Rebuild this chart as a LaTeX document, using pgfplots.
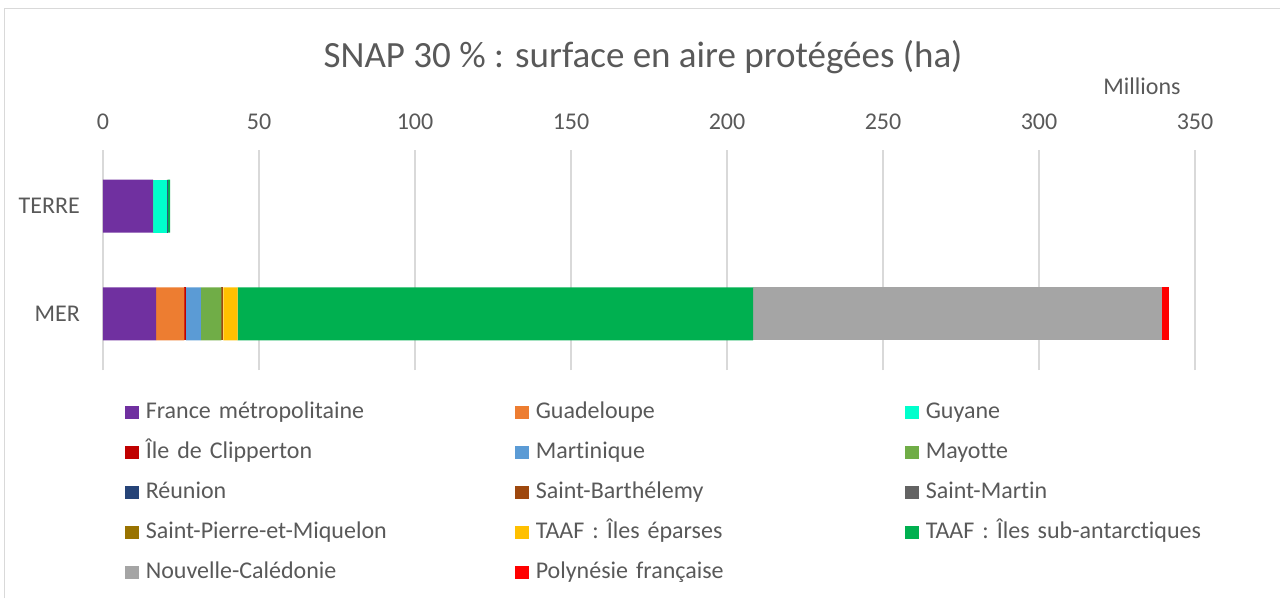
\documentclass[border=0pt]{standalone}
\usepackage{fontspec}
\setmainfont{Carlito}[Ligatures={NoCommon}]
\usepackage{pgfplots}
\pgfplotsset{compat=1.18}
\definecolor{Txt}{HTML}{595959}
\definecolor{Grid}{HTML}{D9D9D9}
\definecolor{cFra}{HTML}{7030A0}
\definecolor{cGua}{HTML}{ED7D31}
\definecolor{cGuy}{HTML}{00FFCC}
\definecolor{cCli}{HTML}{C00000}
\definecolor{cMar}{HTML}{5B9BD5}
\definecolor{cMay}{HTML}{70AD47}
\definecolor{cReu}{HTML}{264478}
\definecolor{cStB}{HTML}{9E480E}
\definecolor{cStM}{HTML}{636363}
\definecolor{cSPM}{HTML}{997300}
\definecolor{cEpa}{HTML}{FFC000}
\definecolor{cSub}{HTML}{00B050}
\definecolor{cNC}{HTML}{A5A5A5}
\definecolor{cPF}{HTML}{FF0000}
\begin{document}
\begin{tikzpicture}
\path[use as bounding box] (0,0) rectangle (1280pt,598pt);
\draw[Grid,line width=1.5pt] (4.5pt,0) -- (4.5pt,589.5pt) -- (1280pt,589.5pt);
\begin{axis}[at={(103pt,228pt)},anchor=south west,
  scale only axis,width=1092pt,height=220pt,
  xbar stacked,bar width=53pt,
  xmin=0,xmax=350,ymin=-0.52,ymax=1.52,
  xtick={0,50,...,350},ytick={0,1},yticklabels={MER,TERRE},
  axis x line*=top,axis y line*=left,axis line style={draw=none},
  major tick length=0pt,
  xmajorgrids,major grid style={draw=Grid,line width=1.3pt},
  tick label style={font=\fontsize{24}{28}\selectfont,text=Txt,inner sep=0pt},
  /pgf/number format/assume math mode=true,
  xticklabel shift=20pt,yticklabel shift=23pt,
  legend columns=3,legend cell align=left,
  legend image code/.code={\fill[#1] (0pt,-6.75pt) rectangle (13.5pt,6.75pt);},
  legend style={at={(axis description cs:0.0204,-0.141)},anchor=north west,
    draw=none,fill=none,inner sep=0pt,outer sep=0pt,
    font=\fontsize{24}{28}\selectfont,text=Txt,row sep=17pt,
    nodes={inner sep=0pt,text height=17pt,text depth=6pt,text width=355pt,align=left},
    /tikz/every odd column/.append style={column sep=7pt},
    /tikz/every even column/.append style={column sep=14.5pt}},
  every axis plot/.append style={draw=none},
]
\addplot[fill=cFra] coordinates {(16.0,1) (17.0,0)};
\addplot[fill=cGua] coordinates {(0.1,1) (9.1,0)};
\addplot[fill=cGuy] coordinates {(4.4,1) (0,0)};
\addplot[fill=cCli] coordinates {(0,1) (0.45,0)};
\addplot[fill=cMar] coordinates {(0.05,1) (4.8,0)};
\addplot[fill=cMay] coordinates {(0.02,1) (6.6,0)};
\addplot[fill=cReu] coordinates {(0.1,1) (0,0)};
\addplot[fill=cStB] coordinates {(0,1) (0.6,0)};
\addplot[fill=cStM] coordinates {(0,1) (0,0)};
\addplot[fill=cSPM] coordinates {(0.01,1) (0,0)};
\addplot[fill=cEpa] coordinates {(0.01,1) (4.6,0)};
\addplot[fill=cSub] coordinates {(0.8,1) (165.2,0)};
\addplot[fill=cNC] coordinates {(0,1) (131.2,0)};
\addplot[fill=cPF] coordinates {(0,1) (2.2,0)};
\legend{France métropolitaine,Guadeloupe,Guyane,Île de Clipperton,Martinique,Mayotte,Réunion,Saint-Barthélemy,Saint-Martin,Saint-Pierre-et-Miquelon,TAAF : Îles éparses,TAAF : Îles sub-antarctiques,Nouvelle-Calédonie,Polynésie française}
\end{axis}
\node[anchor=base,font=\fontsize{37}{44}\selectfont,text=Txt] at (643pt,530pt) {SNAP 30 \% : surface en aire protégées (ha)};
\node[anchor=base,font=\fontsize{24}{28}\selectfont,text=Txt] at (1142pt,503pt) {Millions};
\end{tikzpicture}
\end{document}
